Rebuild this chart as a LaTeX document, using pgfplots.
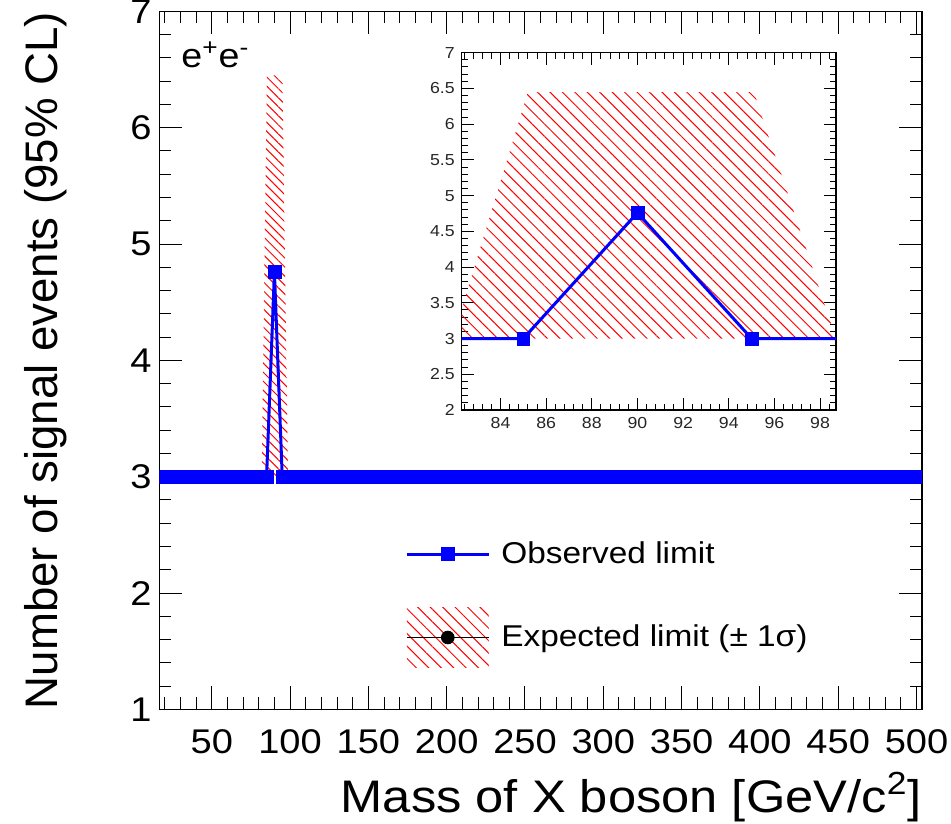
\documentclass[border=0pt]{standalone}
\usepackage{pgfplots}
\pgfplotsset{compat=1.18}
\usepackage{pgfplotstable}
\usepackage{fontspec}
\setmainfont{Liberation Sans}[FakeStretch=1.11]
\newfontfamily\plainsans{Liberation Sans}
\usetikzlibrary{patterns.meta}

\pgfplotsset{
  obslegend/.style={legend image code/.code={\draw[mark repeat=2,mark phase=2,##1] plot coordinates {(0bp,0bp) (20.5bp,0bp) (41bp,0bp)};}},
  explegend/.style={legend image code/.code={
    \path[draw=none, pattern={Lines[angle=-45,distance=4.4bp,line width=0.5bp]}, pattern color=red] (0bp,-15bp) rectangle (41bp,15bp);
    \draw[black, line width=0.5bp] (0bp,0bp) -- (41bp,0bp);
    \fill[black] (20.5bp,0bp) circle (3.2bp);}},
}

\pgfplotstableread[row sep=\\]{
x y\\
20 3\\ 25 3\\ 30 3\\ 35 3\\ 40 3\\ 45 3\\ 50 3\\ 55 3\\ 60 3\\ 65 3\\
70 3\\ 75 3\\ 80 3\\ 85 3\\ 90 4.76\\ 95 3\\ 100 3\\ 105 3\\ 110 3\\ 115 3\\
120 3\\ 125 3\\ 130 3\\ 135 3\\ 140 3\\ 145 3\\ 150 3\\ 155 3\\ 160 3\\ 165 3\\
170 3\\ 175 3\\ 180 3\\ 185 3\\ 190 3\\ 195 3\\ 200 3\\ 205 3\\ 210 3\\ 215 3\\
220 3\\ 225 3\\ 230 3\\ 235 3\\ 240 3\\ 245 3\\ 250 3\\ 255 3\\ 260 3\\ 265 3\\
270 3\\ 275 3\\ 280 3\\ 285 3\\ 290 3\\ 295 3\\ 300 3\\ 305 3\\ 310 3\\ 315 3\\
320 3\\ 325 3\\ 330 3\\ 335 3\\ 340 3\\ 345 3\\ 350 3\\ 355 3\\ 360 3\\ 365 3\\
370 3\\ 375 3\\ 380 3\\ 385 3\\ 390 3\\ 395 3\\ 400 3\\ 405 3\\ 410 3\\ 415 3\\
420 3\\ 425 3\\ 430 3\\ 435 3\\ 440 3\\ 445 3\\ 450 3\\ 455 3\\ 460 3\\ 465 3\\
470 3\\ 475 3\\ 480 3\\ 485 3\\ 490 3\\ 495 3\\ 500 3\\
}\obs

\pgfplotstableread[row sep=\\]{
x y\\
81.9 3\\ 85.2 6.45\\ 95.1 6.45\\ 98.7 3\\
}\expband

\begin{document}
\begin{tikzpicture}
\path[use as bounding box] (0,0) rectangle (475.5bp,412bp);

\begin{axis}[
  name=main,
  at={(79.65bp,57.3bp)}, anchor=south west,
  scale only axis, width=381.35bp, height=349bp,
  xmin=16.5, xmax=503.5, ymin=1, ymax=7,
  xtick={50,100,...,500}, ytick={1,2,...,7},
  minor xtick={20,30,...,500},
  minor ytick={1.2,1.4,1.6,1.8,2.2,2.4,2.6,2.8,3.2,3.4,3.6,3.8,4.2,4.4,4.6,4.8,5.2,5.4,5.6,5.8,6.2,6.4,6.6,6.8},
  tick align=inside, tick pos=both,
  major tick length=11.5bp, minor tick length=6bp,
  every tick/.style={black, line width=0.5bp},
  axis line style={line width=0.75bp},
  /pgf/number format/assume math mode=true,
  ticklabel style={font=\fontsize{17.2}{20}\selectfont, inner sep=0pt},
  xticklabel style={yshift=-9.8bp},
  yticklabel style={xshift=-3.65bp},
  clip marker paths=true,
  legend cell align=left,
  legend style={at={(0.322,0.2465)}, anchor=north west, draw=none, fill=none,
    inner sep=0pt, row sep=18.5bp, column sep=3.5bp,
    font=\fontsize{15.1}{18}\selectfont},
]
\addplot[forget plot, draw=none,
  pattern={Lines[angle=-45,distance=3.2bp,line width=0.5bp]}, pattern color=red]
  table {\expband} -- cycle;
\addplot[blue, line width=1.5bp, mark=square*, mark size=3.2bp,
  mark options={solid, fill=blue, line width=0.3bp}, obslegend]
  table {\obs};
\addlegendentry{Observed limit}
\addlegendimage{explegend}
\addlegendentry{Expected limit (± 1σ)}
\end{axis}

\node[anchor=base east, font=\fontsize{22.9}{26}\selectfont, inner sep=0pt]
  at ([yshift=-51.3bp]main.south east) {Mass of X boson [GeV/c\textsuperscript{2}]};
\node[rotate=90, anchor=base east, font=\plainsans\fontsize{22.9}{26}\selectfont, inner sep=0pt]
  at ([xshift=-50.7bp]main.north west) {Number of signal events (95\% CL)};
\node[anchor=base west, font=\fontsize{17}{20}\selectfont, inner sep=0pt]
  at ([xshift=10.85bp,yshift=-28.3bp]main.north west) {e\textsuperscript{+}e\textsuperscript{-}};

\begin{axis}[
  at={(230.85bp,207bp)}, anchor=south west,
  scale only axis, width=187.15bp, height=178.65bp,
  xmin=82.3, xmax=98.7, ymin=2, ymax=7,
  xtick={84,86,...,98}, ytick={2,2.5,...,7},
  minor xtick={82.4,82.8,83.2,83.6,84.4,84.8,85.2,85.6,86.4,86.8,87.2,87.6,88.4,88.8,89.2,89.6,90.4,90.8,91.2,91.6,92.4,92.8,93.2,93.6,94.4,94.8,95.2,95.6,96.4,96.8,97.2,97.6,98.4},
  minor ytick={2.1,2.2,2.3,2.4,2.6,2.7,2.8,2.9,3.1,3.2,3.3,3.4,3.6,3.7,3.8,3.9,4.1,4.2,4.3,4.4,4.6,4.7,4.8,4.9,5.1,5.2,5.3,5.4,5.6,5.7,5.8,5.9,6.1,6.2,6.3,6.4,6.6,6.7,6.8,6.9},
  tick align=inside, tick pos=both,
  major tick length=6bp, minor tick length=3bp,
  every tick/.style={black, line width=0.5bp},
  axis line style={line width=0.75bp},
  axis background/.style={fill=white},
  /pgf/number format/assume math mode=true,
  ticklabel style={font=\fontsize{8}{10}\selectfont, inner sep=0pt, text=black!85},
  xticklabel style={yshift=-3.5bp},
  yticklabel style={xshift=-3.3bp},
  clip marker paths=true,
]
\addplot[draw=none,
  pattern={Lines[angle=-45,distance=4.4bp,line width=0.5bp]}, pattern color=red]
  table {\expband} -- cycle;
\addplot[blue, line width=1.5bp, mark=square*, mark size=3.2bp,
  mark options={solid, fill=blue, line width=0.3bp}]
  table {\obs};
\end{axis}
\end{tikzpicture}
\end{document}
